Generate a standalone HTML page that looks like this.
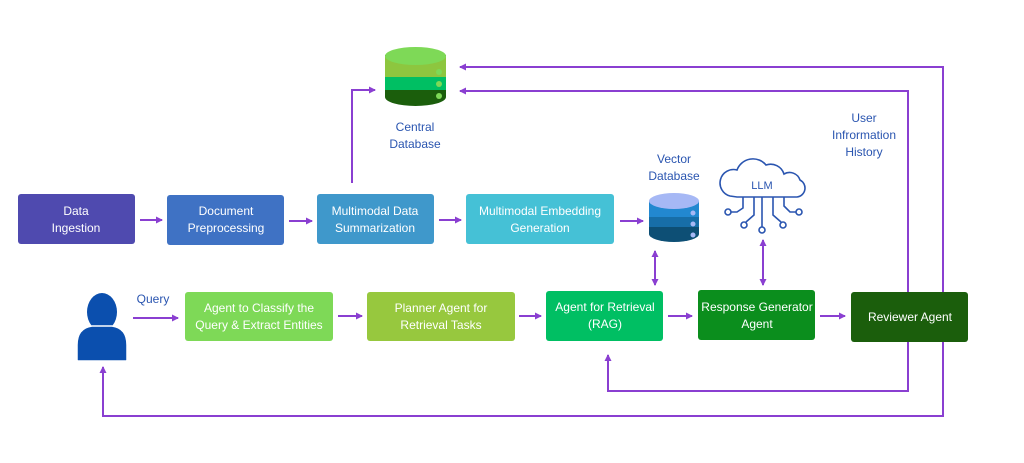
<!DOCTYPE html>
<html><head><meta charset="utf-8"><style>
html,body{margin:0;padding:0;background:#fff;}
svg{display:block;font-family:"Liberation Sans",sans-serif;}
</style></head><body>
<svg width="1024" height="463" viewBox="0 0 1024 463" xmlns="http://www.w3.org/2000/svg">
<defs>
<marker id="a" markerWidth="8" markerHeight="8" refX="6" refY="4" orient="auto" markerUnits="userSpaceOnUse">
<path d="M0,0.5 L7,4 L0,7.5 Z" fill="#8a3fd1"/></marker>
<marker id="s" markerWidth="8" markerHeight="8" refX="1" refY="4" orient="auto" markerUnits="userSpaceOnUse">
<path d="M7,0.5 L0,4 L7,7.5 Z" fill="#8a3fd1"/></marker>
</defs>
<g stroke="#8a3fd1" stroke-width="2" fill="none">
<line x1="140" y1="220" x2="162" y2="220" marker-end="url(#a)"/>
<line x1="289" y1="221" x2="312" y2="221" marker-end="url(#a)"/>
<line x1="439" y1="220" x2="461" y2="220" marker-end="url(#a)"/>
<line x1="620" y1="221" x2="643" y2="221" marker-end="url(#a)"/>
<polyline points="352,183 352,90 375,90" marker-end="url(#a)"/>
<polyline points="943,295 943,67 460,67" marker-end="url(#a)"/>
<polyline points="908,295 908,91 460,91" marker-end="url(#a)"/>
<polyline points="908,341 908,391 608,391 608,355" marker-end="url(#a)"/>
<polyline points="943,341 943,416 103,416 103,367" marker-end="url(#a)"/>
<line x1="133" y1="318" x2="178" y2="318" marker-end="url(#a)"/>
<line x1="338" y1="316" x2="362" y2="316" marker-end="url(#a)"/>
<line x1="519" y1="316" x2="541" y2="316" marker-end="url(#a)"/>
<line x1="668" y1="316" x2="692" y2="316" marker-end="url(#a)"/>
<line x1="820" y1="316" x2="845" y2="316" marker-end="url(#a)"/>
<line x1="655" y1="251" x2="655" y2="285" marker-start="url(#s)" marker-end="url(#a)"/>
<line x1="763" y1="240" x2="763" y2="285" marker-start="url(#s)" marker-end="url(#a)"/>
</g>
<g font-size="12" fill="#fff" text-anchor="middle">
<rect x="18" y="194" width="117" height="50" rx="3" fill="#4f4aaf"/>
<text x="76" y="215">Data</text><text x="76" y="232">Ingestion</text>
<rect x="167" y="195" width="117" height="50" rx="3" fill="#3f72c4"/>
<text x="226" y="215">Document</text><text x="226" y="232">Preprocessing</text>
<rect x="317" y="194" width="117" height="50" rx="3" fill="#3f98cb"/>
<text x="375" y="215">Multimodal Data</text><text x="375" y="232">Summarization</text>
<rect x="466" y="194" width="148" height="50" rx="3" fill="#45c1d6"/>
<text x="540" y="215">Multimodal Embedding</text><text x="540" y="232">Generation</text>
<rect x="185" y="292" width="148" height="49" rx="3" fill="#7ed957"/>
<text x="259" y="312">Agent to Classify the</text><text x="259" y="329">Query &amp; Extract Entities</text>
<rect x="367" y="292" width="148" height="49" rx="3" fill="#97c83e"/>
<text x="441" y="312">Planner Agent for</text><text x="441" y="329">Retrieval Tasks</text>
<rect x="546" y="291" width="117" height="50" rx="3" fill="#00bf63"/>
<text x="605" y="311">Agent for Retrieval</text><text x="605" y="328">(RAG)</text>
<rect x="698" y="290" width="117" height="50" rx="3" fill="#0b8e1d"/>
<text x="757" y="311">Response Generator</text><text x="757" y="328">Agent</text>
<rect x="851" y="292" width="117" height="50" rx="3" fill="#1b5e0c"/>
<text x="910" y="321">Reviewer Agent</text>
</g>
<g font-size="12" fill="#2a55b0" text-anchor="middle">
<text x="415" y="131">Central</text><text x="415" y="148">Database</text>
<text x="674" y="163">Vector</text><text x="674" y="180">Database</text>
<text x="864" y="122">User</text><text x="864" y="139">Infrormation</text><text x="864" y="156">History</text>
<text x="153" y="303">Query</text>
</g>
<g>
<path d="M385,55 V97 A30.5,9 0 0 0 446,97 V55 Z" fill="#1b5e0c"/>
<rect x="385" y="77" width="61" height="13" fill="#00bf63"/>
<rect x="385" y="56" width="61" height="21" fill="#8dc63f"/>
<ellipse cx="415.5" cy="56" rx="30.5" ry="9" fill="#7ed957"/>
<circle cx="439" cy="72" r="3" fill="#7ed957"/><circle cx="439" cy="84" r="3" fill="#7ed957"/><circle cx="439" cy="96" r="3" fill="#7ed957"/>
</g>
<g>
<path d="M649,201 V234 A25,8 0 0 0 699,234 V201 Z" fill="#0d4f75"/>
<rect x="649" y="217" width="50" height="10" fill="#176ea8"/>
<rect x="649" y="201" width="50" height="16" fill="#2288d0"/>
<ellipse cx="674" cy="201" rx="25" ry="8" fill="#a6b8f5"/>
<circle cx="693" cy="213" r="2.5" fill="#a6b8f5"/><circle cx="693" cy="224" r="2.5" fill="#a6b8f5"/><circle cx="693" cy="235" r="2.5" fill="#a6b8f5"/>
</g>
<g stroke="#2a55b0" stroke-width="1.6" fill="none">
<path d="M737,197 H797 A9,9 0 0 0 800,180 A11,11 0 0 0 784,174 A14,14 0 0 0 766,165 A17,17 0 0 0 737,170 A13,13 0 0 0 730,196 Z"/>
<path d="M743,197 V208 L737,212 H731"/><circle cx="728" cy="212" r="3"/>
<path d="M754,197 V215 L746,222"/><circle cx="744" cy="225" r="3"/>
<path d="M762,197 V227"/><circle cx="762" cy="230" r="3"/>
<path d="M773,197 V215 L781,222"/><circle cx="783" cy="225" r="3"/>
<path d="M784,197 V206 L790,212 H796"/><circle cx="799" cy="212" r="3"/>
</g>
<text x="762" y="189" font-size="11" fill="#2a55b0" text-anchor="middle">LLM</text>
<g fill="#0b4fae">
<ellipse cx="102" cy="312" rx="15" ry="19"/>
<path d="M77,360 V345 Q77,328 92,326 H112 Q127,328 127,345 V360 Q127,361 125,361 H79 Q77,361 77,360 Z" stroke="#fff" stroke-width="1.5"/>
</g>
</svg>
</body></html>
